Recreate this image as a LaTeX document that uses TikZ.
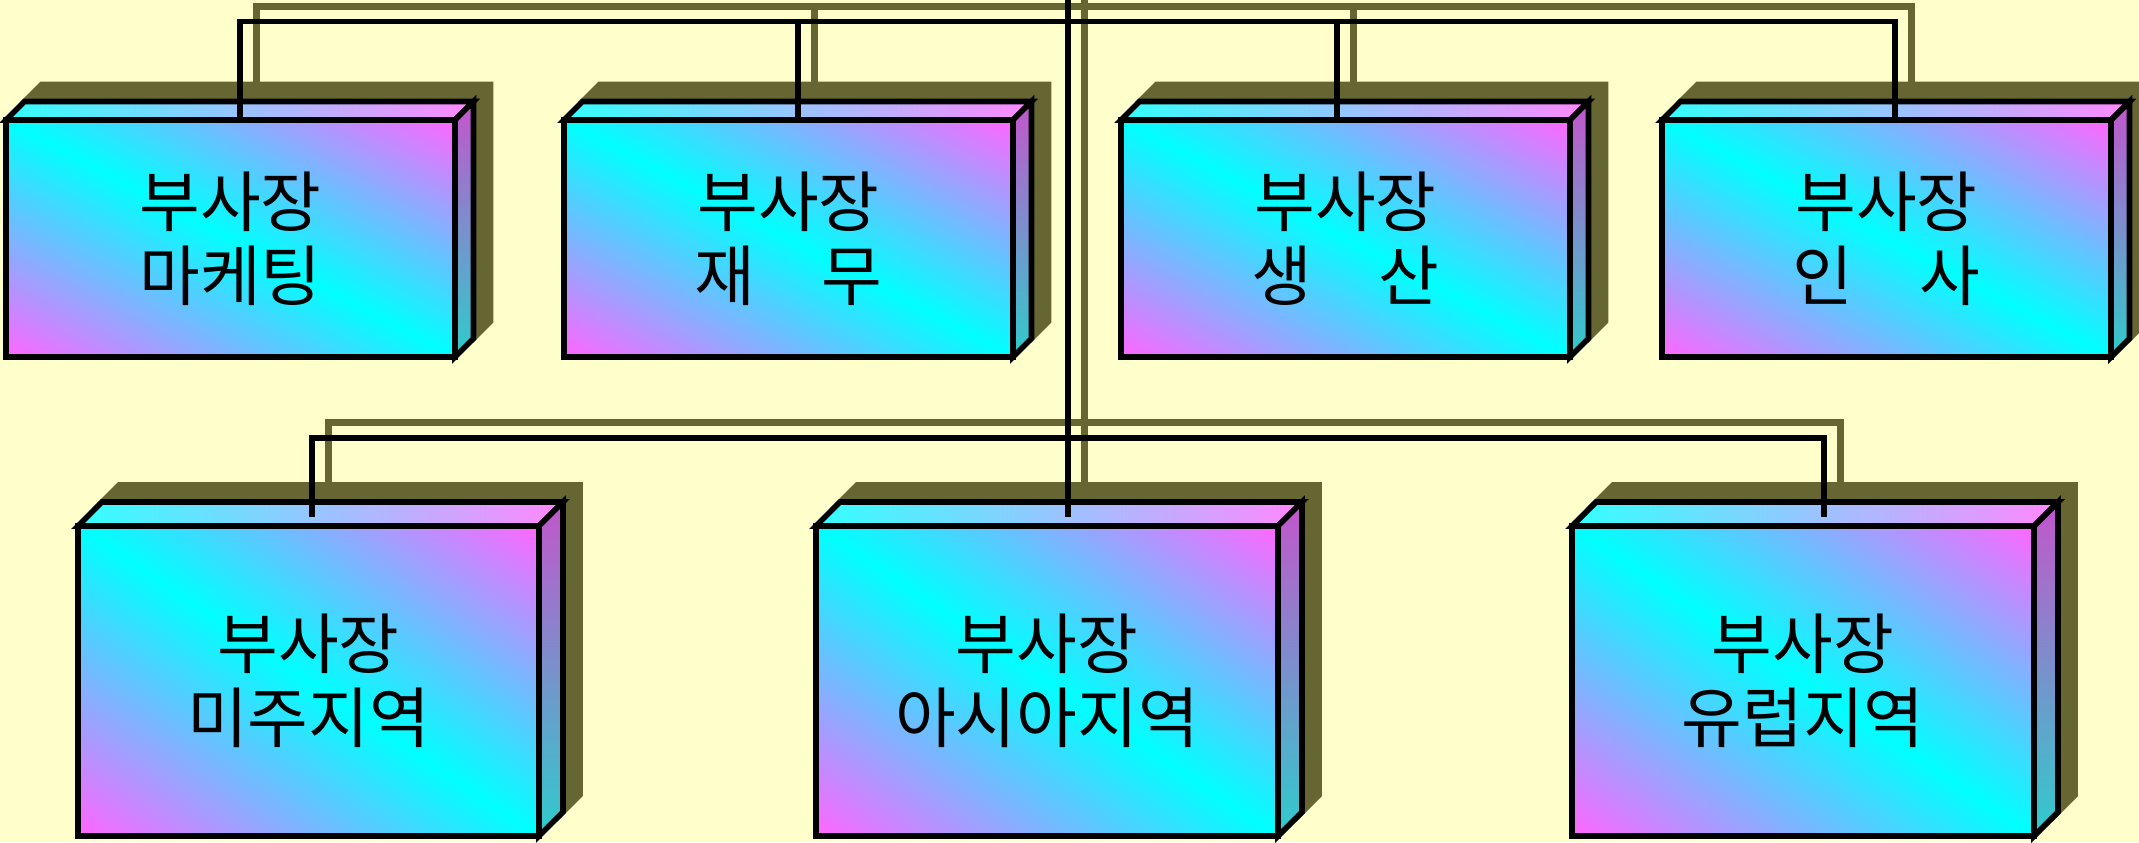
\documentclass[tikz,border=0pt]{standalone}
\usepackage{fontspec}
\newfontfamily\krfont{Noto Sans CJK KR}
\definecolor{bg}{HTML}{FFFFCC}
\definecolor{olv}{HTML}{666633}
\definecolor{bxmag}{HTML}{FF66FF}
\definecolor{bxcyan}{HTML}{00FFFF}
\definecolor{topl}{HTML}{33FFFF}
\definecolor{topr}{HTML}{FF88FF}
\definecolor{sidet}{HTML}{C455CC}
\definecolor{sideb}{HTML}{2ECCCC}
\pgfdeclarehorizontalshading{boxshade}{100bp}{color(0bp)=(bxmag); color(14.6bp)=(bxmag); color(50bp)=(bxcyan); color(85.4bp)=(bxmag); color(100bp)=(bxmag)}
\pgfdeclarelayer{bgl}
\pgfdeclarelayer{shad}
\pgfsetlayers{bgl,shad,main}
\tikzset{
  front/.style={draw=black, line width=2.8pt, line join=miter,
    outer sep=0pt, inner sep=0pt, align=center, text=black,
    font=\krfont\fontsize{33pt}{37pt}\selectfont},
  topface/.style={draw=black, line width=2.8pt, line join=miter, left color=topl, right color=topr},
  sideface/.style={draw=black, line width=2.8pt, line join=miter, top color=sidet, bottom color=sideb},
  shadowfill/.style={fill=olv, draw=olv, line width=2.8pt, line join=miter},
  conn/.style={draw=black, line width=2.6pt, line join=miter},
  sconn/.style={draw=olv, line width=3.5pt, line join=miter}
}
% #1 name, #2 cx, #3 cy, #4 w, #5 h (px), #6 depth, #7 text
\newcommand\mkbox[7]{%
  \begin{scope}[transform canvas={shift={(#2-#4/2,#3+#5/2)}, xscale=#4*0.05, yscale=#5*0.05}]
    \shade[shading=boxshade, shading angle=45] (0,0) rectangle (10pt,10pt);
  \end{scope}
  \node[front, minimum width=#4*0.5pt, minimum height=#5*0.5pt] (#1) at (#2,#3) {#7};
  \path[topface] (#1.north west) -- ([shift={(#6,-#6)}]#1.north west) -- ([shift={(#6,-#6)}]#1.north east) -- (#1.north east) -- cycle;
  \path[sideface] (#1.north east) -- ([shift={(#6,-#6)}]#1.north east) -- ([shift={(#6,-#6)}]#1.south east) -- (#1.south east) -- cycle;
  \begin{pgfonlayer}{shad}
  \path[shadowfill] ([shift={(17,-17)}]#1.south west) -- ([shift={(17,-17)}]#1.north west) -- ([shift={(17+#6,-17-#6)}]#1.north west) -- ([shift={(17+#6,-17-#6)}]#1.north east) -- ([shift={(17+#6,-17-#6)}]#1.south east) -- ([shift={(17,-17)}]#1.south east) -- cycle;
  \end{pgfonlayer}%
}
\begin{document}
\begin{tikzpicture}[x=0.5pt,y=-0.5pt]
\useasboundingbox (0,0) rectangle (2139,842);
\begin{pgfonlayer}{bgl}
\fill[bg] (0,0) rectangle (2139,842);
\end{pgfonlayer}

% boxes: top row
\mkbox{b1}{230.5}{238.5}{449}{237}{18.5}{부사장\\마케팅}
\mkbox{b2}{788.5}{238.5}{449}{237}{18.5}{부사장\\재　무}
\mkbox{b3}{1345.5}{238.5}{449}{237}{18.5}{부사장\\생　산}
\mkbox{b4}{1886.5}{238.5}{449}{237}{18.5}{부사장\\인　사}
% boxes: bottom row
\mkbox{b5}{308.5}{681}{461}{310}{24}{부사장\\미주지역}
\mkbox{b6}{1047}{681}{462}{310}{24}{부사장\\아시아지역}
\mkbox{b7}{1803}{681}{462}{310}{24}{부사장\\유럽지역}

% bus coordinates
\coordinate (tbl) at (240,21.7);
\coordinate (tbr) at (1895,21.7);
\coordinate (bbl) at (312,438);
\coordinate (bbr) at (1824,438);
\coordinate (trtop) at (1068,-10);
\coordinate (c5) at (312,517);
\coordinate (c6) at (1068,517);
\coordinate (c7) at (1824,517);
\coordinate (stbl) at (256,6);
\coordinate (stbr) at (1911,6);
\coordinate (sbbl) at (328,422);
\coordinate (sbbr) at (1840,422);

% olive connector shadows
\begin{pgfonlayer}{shad}
\draw[sconn] (256,104) -- (stbl) -- (stbr) -- (1911,104);
\draw[sconn] (814,6) -- (814,104);
\draw[sconn] (1353,6) -- (1353,104);
\draw[sconn] (1084,-10) -- (1084,501);
\draw[sconn] (328,501) -- (sbbl) -- (sbbr) -- (1840,501);
\end{pgfonlayer}

% black connectors
\draw[conn] (240,0 |- b1.north) -- (tbl) -- (tbr) -- (1895,0 |- b4.north);
\draw[conn] (798,21.7) -- (798,0 |- b2.north);
\draw[conn] (1337,21.7) -- (1337,0 |- b3.north);
\draw[conn] (trtop) -- (c6);
\draw[conn] (c5) -- (bbl) -- (bbr) -- (c7);
\end{tikzpicture}
\end{document}
